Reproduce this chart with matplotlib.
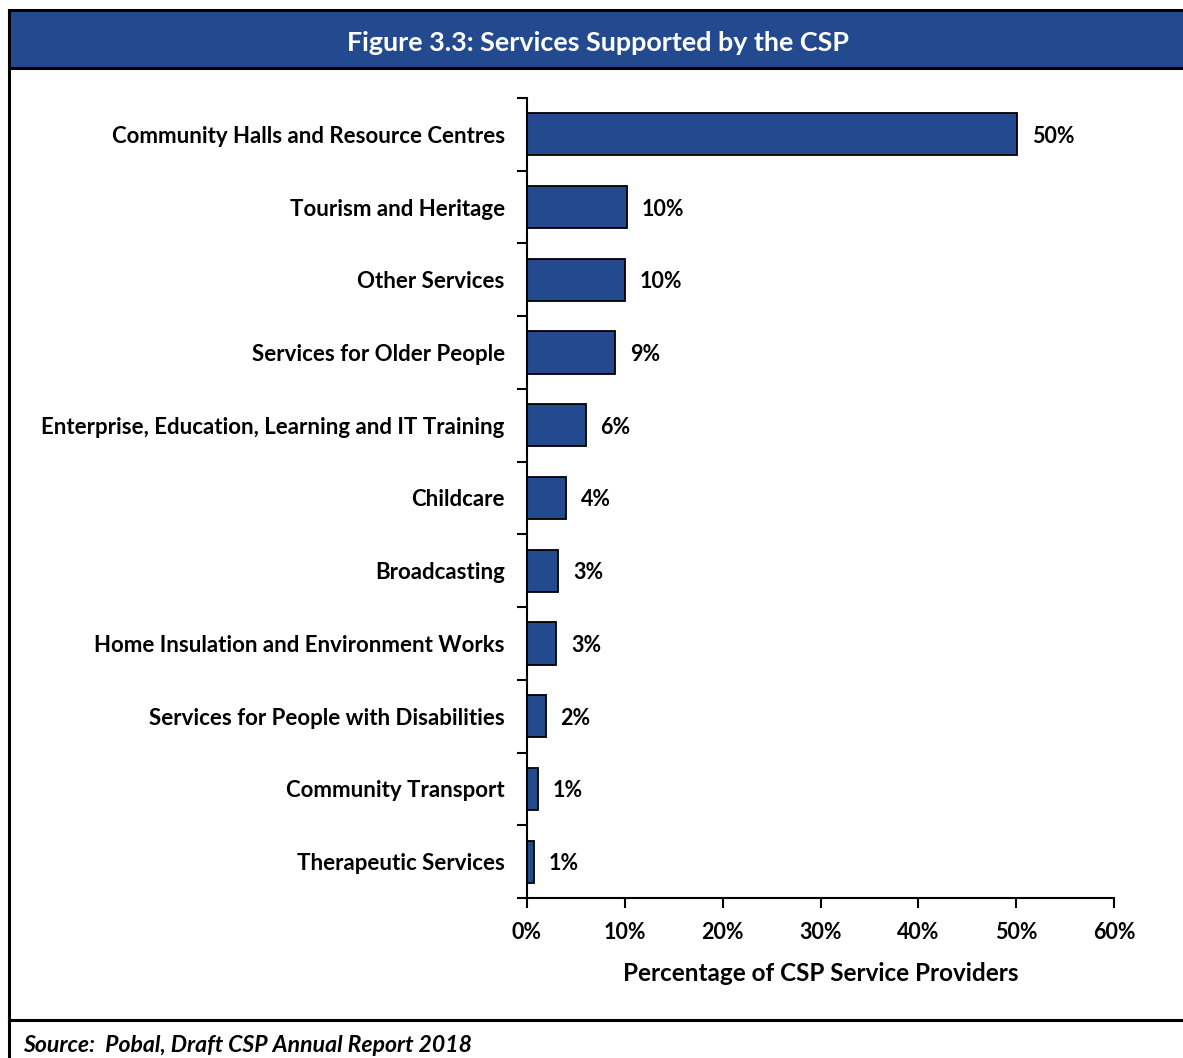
import matplotlib.pyplot as plt
from matplotlib.lines import Line2D
from matplotlib.patches import Rectangle
import numpy as np

plt.rcParams['font.family'] = ['Lato', 'DejaVu Sans']
plt.rcParams['font.weight'] = 'bold'

categories = [
    "Community Halls and Resource Centres",
    "Tourism and Heritage",
    "Other Services",
    "Services for Older People",
    "Enterprise, Education, Learning and IT Training",
    "Childcare",
    "Broadcasting",
    "Home Insulation and Environment Works",
    "Services for People with Disabilities",
    "Community Transport",
    "Therapeutic Services",
]
values = [50.1, 10.2, 10.0, 9.0, 6.0, 4.0, 3.2, 3.0, 1.9, 1.1, 0.7]
value_labels = ["50%", "10%", "10%", "9%", "6%", "4%", "3%", "3%", "2%", "1%", "1%"]
x_ticks = [0, 10, 20, 30, 40, 50, 60]

W, H = 1183, 1058
blue = "#234A8F"

fig = plt.figure(figsize=(W / 100, H / 100), dpi=100)

def fx(px):
    return px / W

def fy(py):
    return 1 - py / H

# frame and header band
fig.add_artist(Rectangle((fx(9), fy(68)), 1 - fx(9), fy(10) - fy(68),
                         transform=fig.transFigure, facecolor=blue, edgecolor="none"))
for (x0, y0, x1, y1) in [(9, 10, W, 10), (9, 68, W, 68), (9, 1020, W, 1020), (9, 10, 9, H)]:
    fig.add_artist(Line2D([fx(x0), fx(x1)], [fy(y0), fy(y1)], color="black", lw=2.2,
                          transform=fig.transFigure))

fig.text(fx(598), fy(41), "Figure 3.3: Services Supported by the CSP", color="white",
         fontsize=19.4, fontweight="bold", ha="center", va="center_baseline")
fig.text(fx(23), fy(1043), "Source:  Pobal, Draft CSP Annual Report 2018", fontsize=16.6,
         fontweight="bold", style="italic", ha="left", va="center_baseline")

ax = fig.add_axes([fx(527), fy(898), fx(1114) - fx(527), fy(98) - fy(898)])
y = np.arange(len(categories))
ax.barh(y, values, height=0.58, color=blue, edgecolor="black", linewidth=1.3)
for yi, v, lab in zip(y, values, value_labels):
    ax.text(v + 1.5, yi, lab, va="center_baseline", ha="left", fontsize=15.5, fontweight="bold")

ax.set_xlim(0, 60)
ax.set_ylim(len(categories) - 0.5, -0.5)
ax.set_xticks(x_ticks)
ax.set_xticklabels([f"{t}%" for t in x_ticks], fontsize=15.5, fontweight="bold")
ax.set_yticks(y)
ax.set_yticklabels(categories, fontsize=16, fontweight="bold", va="center_baseline")
ax.set_yticks(np.arange(-0.5, len(categories), 1), minor=True)
ax.tick_params(axis="y", which="major", length=0, pad=16)
ax.tick_params(axis="y", which="minor", length=7, width=1.5, direction="out")
ax.tick_params(axis="x", length=7, width=1.5, direction="out", pad=10)
for s in ["top", "right"]:
    ax.spines[s].set_visible(False)
for s in ["left", "bottom"]:
    ax.spines[s].set_linewidth(1.5)
ax.set_xlabel("Percentage of CSP Service Providers", fontsize=17.5, fontweight="bold", labelpad=14)

fig.savefig("out.png", dpi=100)
